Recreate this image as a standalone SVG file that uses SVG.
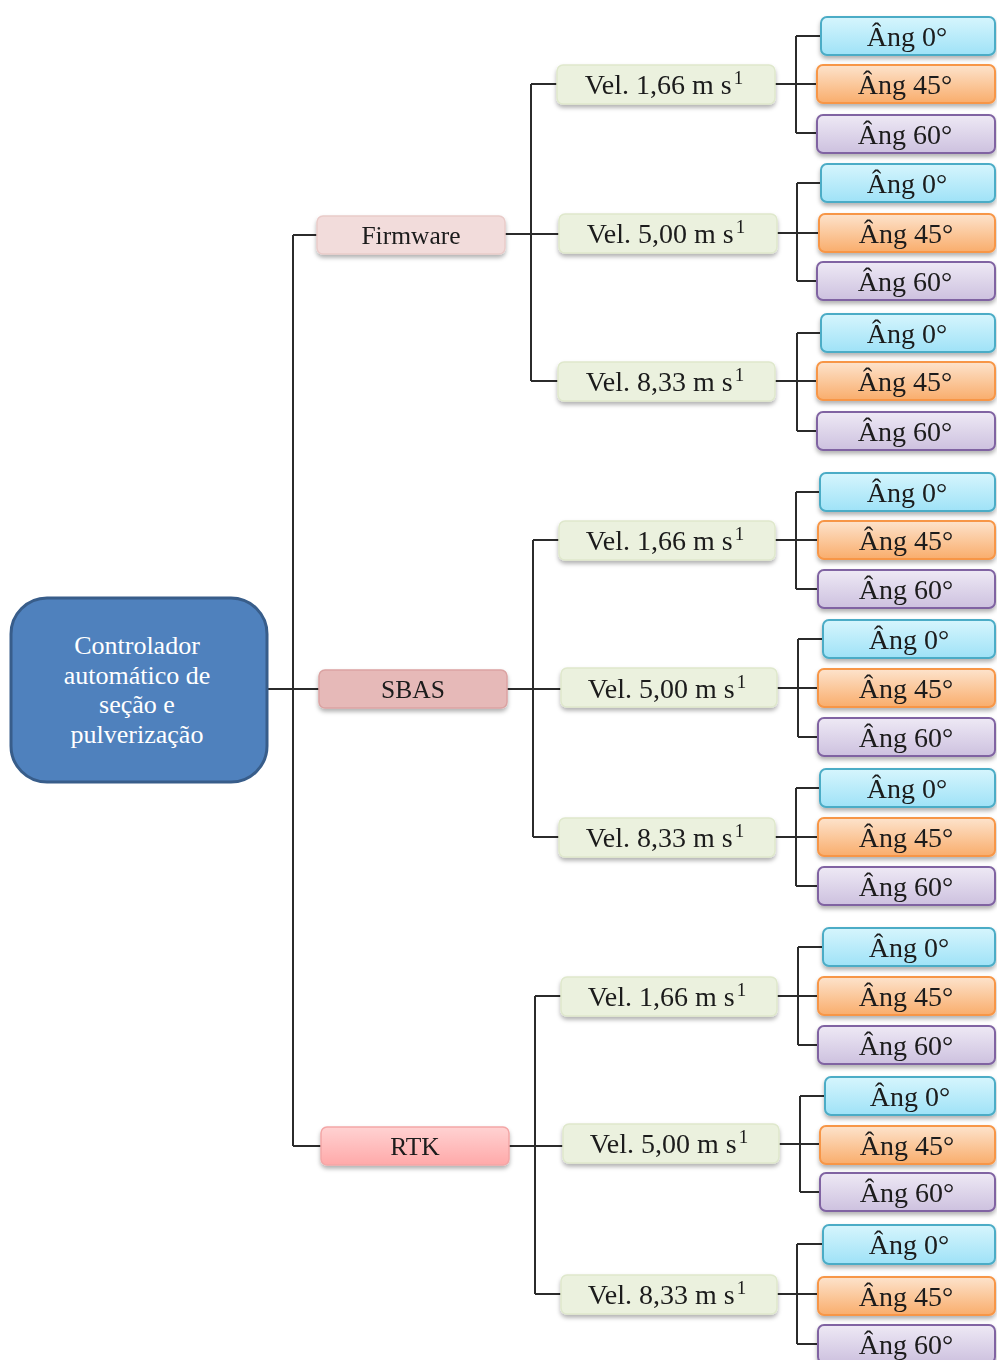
<svg xmlns="http://www.w3.org/2000/svg" width="997" height="1360" viewBox="0 0 997 1360">
<defs>
<filter id="sh" x="-10%" y="-30%" width="120%" height="170%">
<feDropShadow dx="0" dy="3" stdDeviation="2" flood-color="#000" flood-opacity="0.3"/>
</filter>
<linearGradient id="gBlue" x1="0" y1="0" x2="0" y2="1"><stop offset="0" stop-color="#d6f5fd"/><stop offset="1" stop-color="#9fe2f7"/></linearGradient>
<linearGradient id="gOrange" x1="0" y1="0" x2="0" y2="1"><stop offset="0" stop-color="#fde3cc"/><stop offset="1" stop-color="#f9ad6c"/></linearGradient>
<linearGradient id="gPurple" x1="0" y1="0" x2="0" y2="1"><stop offset="0" stop-color="#eee9f5"/><stop offset="1" stop-color="#cdc1df"/></linearGradient>
<linearGradient id="gRtk" x1="0" y1="0" x2="0" y2="1"><stop offset="0" stop-color="#ffd2d2"/><stop offset="1" stop-color="#ffa9a9"/></linearGradient>
</defs>
<style>
.ln{stroke:#2b2b2b;stroke-width:2;fill:none}
.b{filter:url(#sh)}
.root{fill:#4f81bd;stroke:#385d8a;stroke-width:3}
.fw{fill:#f2dcdb;stroke:#e9cbc9;stroke-width:1.5}
.sb{fill:#e6b9b8;stroke:#dba3a2;stroke-width:1.5}
.rt{fill:url(#gRtk);stroke:#f3a6a6;stroke-width:1.5}
.vel{fill:#ebf1de;stroke:#dfe8cc;stroke-width:1.5}
.a0{fill:url(#gBlue);stroke:#4bacc6;stroke-width:2}
.a45{fill:url(#gOrange);stroke:#f79646;stroke-width:2}
.a60{fill:url(#gPurple);stroke:#8064a2;stroke-width:2}
text{font-family:"Liberation Serif","Times New Roman",serif;fill:#1a1a1a;text-anchor:middle}
.t1{font-size:25.5px}
.t2{font-size:28px}
.rtxt{font-size:26px;fill:#ffffff}
.sup{font-size:19px}
</style>

<g id="connectors">
<path class="ln" d="M268 689H293M293 235V1146M293 235H317M293 689H319M293 1146H321"/>
<path class="ln" d="M505 234H559M531 84V381M531 84H557M531 381H558"/>
<path class="ln" d="M507 689H561M533 540V837M533 540H559M533 837H559"/>
<path class="ln" d="M509 1146H563M535 996V1294M535 996H561M535 1294H561"/>
<path class="ln" d="M775 84H817M796 36V133M796 36H821M796 133H817"/>
<path class="ln" d="M777 233H819M797 183V281M797 183H821M797 281H817"/>
<path class="ln" d="M775 381H817M797 333V431M797 333H821M797 431H817"/>
<path class="ln" d="M775 540H818M796 492V589M796 492H820M796 589H818"/>
<path class="ln" d="M777 688H818M798 639V737M798 639H823M798 737H818"/>
<path class="ln" d="M775 837H818M796 788V886M796 788H820M796 886H818"/>
<path class="ln" d="M777 996H818M798 947V1045M798 947H823M798 1045H818"/>
<path class="ln" d="M779 1144H820M800 1096V1192M800 1096H825M800 1192H820"/>
<path class="ln" d="M777 1294H818M797 1244V1344M797 1244H823M797 1344H818"/>
</g>

<g id="root"><rect class="root" x="11" y="598" width="256" height="184" rx="36"/>
<text class="rtxt" x="137" y="654">Controlador</text>
<text class="rtxt" x="137" y="684">automático de</text>
<text class="rtxt" x="137" y="713">seção e</text>
<text class="rtxt" x="137" y="743">pulverização</text></g>

<g id="firmware" class="b"><rect class="fw" x="317" y="216" width="188" height="38" rx="6"/><text class="t1" x="411" y="244">Firmware</text></g>
<g id="sbas" class="b"><rect class="sb" x="319" y="670" width="188" height="38" rx="6"/><text class="t1" x="413" y="698">SBAS</text></g>
<g id="rtk" class="b"><rect class="rt" x="321" y="1127" width="188" height="38" rx="6"/><text class="t1" x="415" y="1155">RTK</text></g>

<g id="fw-v1" class="b"><rect class="vel" x="557" y="65" width="218" height="39" rx="6"/><text class="t2" x="664" y="94">Vel. 1,66 m s<tspan class="sup" dx="2" dy="-10">1</tspan></text></g>
<g id="fw-v2" class="b"><rect class="vel" x="559" y="214" width="218" height="39" rx="6"/><text class="t2" x="666" y="243">Vel. 5,00 m s<tspan class="sup" dx="2" dy="-10">1</tspan></text></g>
<g id="fw-v3" class="b"><rect class="vel" x="558" y="362" width="217" height="39" rx="6"/><text class="t2" x="665" y="391">Vel. 8,33 m s<tspan class="sup" dx="2" dy="-10">1</tspan></text></g>
<g id="sb-v1" class="b"><rect class="vel" x="559" y="521" width="216" height="39" rx="6"/><text class="t2" x="665" y="550">Vel. 1,66 m s<tspan class="sup" dx="2" dy="-10">1</tspan></text></g>
<g id="sb-v2" class="b"><rect class="vel" x="561" y="668" width="216" height="39" rx="6"/><text class="t2" x="667" y="698">Vel. 5,00 m s<tspan class="sup" dx="2" dy="-10">1</tspan></text></g>
<g id="sb-v3" class="b"><rect class="vel" x="559" y="818" width="216" height="39" rx="6"/><text class="t2" x="665" y="847">Vel. 8,33 m s<tspan class="sup" dx="2" dy="-10">1</tspan></text></g>
<g id="rt-v1" class="b"><rect class="vel" x="561" y="977" width="216" height="39" rx="6"/><text class="t2" x="667" y="1006">Vel. 1,66 m s<tspan class="sup" dx="2" dy="-10">1</tspan></text></g>
<g id="rt-v2" class="b"><rect class="vel" x="563" y="1124" width="216" height="39" rx="6"/><text class="t2" x="669" y="1153">Vel. 5,00 m s<tspan class="sup" dx="2" dy="-10">1</tspan></text></g>
<g id="rt-v3" class="b"><rect class="vel" x="561" y="1275" width="216" height="39" rx="6"/><text class="t2" x="667" y="1304">Vel. 8,33 m s<tspan class="sup" dx="2" dy="-10">1</tspan></text></g>

<g id="fw-v1-a0" class="b"><rect class="a0" x="821" y="17" width="174" height="38" rx="6"/><text class="t2" x="907" y="46">Âng 0°</text></g>
<g id="fw-v1-a45" class="b"><rect class="a45" x="817" y="65" width="178" height="38" rx="6"/><text class="t2" x="905" y="94">Âng 45°</text></g>
<g id="fw-v1-a60" class="b"><rect class="a60" x="817" y="115" width="178" height="38" rx="6"/><text class="t2" x="905" y="144">Âng 60°</text></g>

<g id="fw-v2-a0" class="b"><rect class="a0" x="821" y="164" width="174" height="38" rx="6"/><text class="t2" x="907" y="193">Âng 0°</text></g>
<g id="fw-v2-a45" class="b"><rect class="a45" x="819" y="214" width="176" height="38" rx="6"/><text class="t2" x="906" y="243">Âng 45°</text></g>
<g id="fw-v2-a60" class="b"><rect class="a60" x="817" y="262" width="178" height="38" rx="6"/><text class="t2" x="905" y="291">Âng 60°</text></g>

<g id="fw-v3-a0" class="b"><rect class="a0" x="821" y="314" width="174" height="38" rx="6"/><text class="t2" x="907" y="343">Âng 0°</text></g>
<g id="fw-v3-a45" class="b"><rect class="a45" x="817" y="362" width="178" height="38" rx="6"/><text class="t2" x="905" y="391">Âng 45°</text></g>
<g id="fw-v3-a60" class="b"><rect class="a60" x="817" y="412" width="178" height="38" rx="6"/><text class="t2" x="905" y="441">Âng 60°</text></g>

<g id="sb-v1-a0" class="b"><rect class="a0" x="820" y="473" width="175" height="38" rx="6"/><text class="t2" x="907" y="502">Âng 0°</text></g>
<g id="sb-v1-a45" class="b"><rect class="a45" x="818" y="521" width="177" height="38" rx="6"/><text class="t2" x="906" y="550">Âng 45°</text></g>
<g id="sb-v1-a60" class="b"><rect class="a60" x="818" y="570" width="177" height="38" rx="6"/><text class="t2" x="906" y="599">Âng 60°</text></g>

<g id="sb-v2-a0" class="b"><rect class="a0" x="823" y="620" width="172" height="38" rx="6"/><text class="t2" x="909" y="649">Âng 0°</text></g>
<g id="sb-v2-a45" class="b"><rect class="a45" x="818" y="669" width="177" height="38" rx="6"/><text class="t2" x="906" y="698">Âng 45°</text></g>
<g id="sb-v2-a60" class="b"><rect class="a60" x="818" y="718" width="177" height="38" rx="6"/><text class="t2" x="906" y="747">Âng 60°</text></g>

<g id="sb-v3-a0" class="b"><rect class="a0" x="820" y="769" width="175" height="38" rx="6"/><text class="t2" x="907" y="798">Âng 0°</text></g>
<g id="sb-v3-a45" class="b"><rect class="a45" x="818" y="818" width="177" height="38" rx="6"/><text class="t2" x="906" y="847">Âng 45°</text></g>
<g id="sb-v3-a60" class="b"><rect class="a60" x="818" y="867" width="177" height="38" rx="6"/><text class="t2" x="906" y="896">Âng 60°</text></g>

<g id="rt-v1-a0" class="b"><rect class="a0" x="823" y="928" width="172" height="38" rx="6"/><text class="t2" x="909" y="957">Âng 0°</text></g>
<g id="rt-v1-a45" class="b"><rect class="a45" x="818" y="977" width="177" height="38" rx="6"/><text class="t2" x="906" y="1006">Âng 45°</text></g>
<g id="rt-v1-a60" class="b"><rect class="a60" x="818" y="1026" width="177" height="38" rx="6"/><text class="t2" x="906" y="1055">Âng 60°</text></g>

<g id="rt-v2-a0" class="b"><rect class="a0" x="825" y="1077" width="170" height="38" rx="6"/><text class="t2" x="910" y="1106">Âng 0°</text></g>
<g id="rt-v2-a45" class="b"><rect class="a45" x="820" y="1126" width="175" height="38" rx="6"/><text class="t2" x="907" y="1155">Âng 45°</text></g>
<g id="rt-v2-a60" class="b"><rect class="a60" x="820" y="1173" width="175" height="38" rx="6"/><text class="t2" x="907" y="1202">Âng 60°</text></g>

<g id="rt-v3-a0" class="b"><rect class="a0" x="823" y="1225" width="172" height="39" rx="6"/><text class="t2" x="909" y="1254">Âng 0°</text></g>
<g id="rt-v3-a45" class="b"><rect class="a45" x="818" y="1277" width="177" height="38" rx="6"/><text class="t2" x="906" y="1306">Âng 45°</text></g>
<g id="rt-v3-a60" class="b"><rect class="a60" x="818" y="1325" width="177" height="38" rx="6"/><text class="t2" x="906" y="1354">Âng 60°</text></g>
</svg>
